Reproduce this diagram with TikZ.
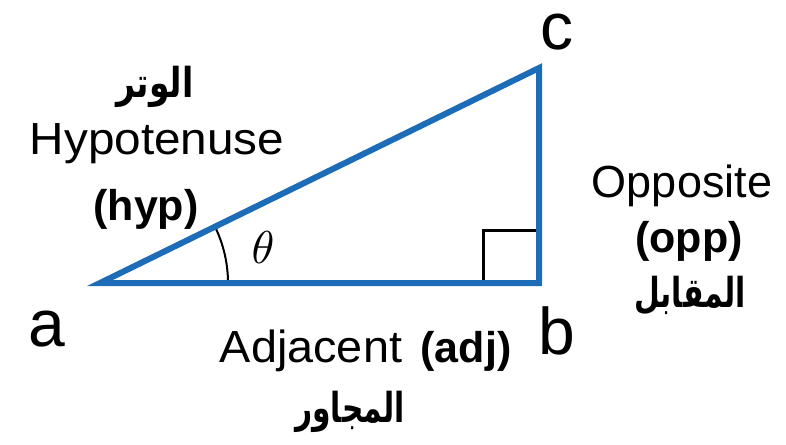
\documentclass[tikz,border=0pt]{standalone}
\usepackage{fontspec}
\setmainfont{Liberation Sans}
\newfontfamily\arabicfont[Script=Arabic]{DejaVu Sans}
\TeXXeTstate=1
\usepackage{tikz}
\definecolor{sideblue}{RGB}{28,108,184}
\tikzset{
  vertexlabel/.style={font=\fontsize{66}{66}\selectfont, inner sep=0pt, anchor=base},
  sidename/.style={font=\fontsize{45}{50}\selectfont, text=black, inner sep=0pt, anchor=base},
  sideabbr/.style={font=\fontsize{43}{46}\selectfont\bfseries, inner sep=0pt, anchor=base},
  sidearabic/.style={font=\fontsize{33}{40}\selectfont\arabicfont\bfseries, inner sep=0pt},
}
\newcommand{\tallar}[1]{\scalebox{1}[1.25]{\beginR #1\endR}}

\begin{document}
\begin{tikzpicture}[x=1pt,y=-1pt]
        \useasboundingbox (0,0) rectangle (786,444);
        % Define points
        \coordinate (a) at (100,283);
        \coordinate (b) at (539,283);
        \coordinate (c) at (539,68);
        % Right angle and angle mark
        \draw[line width=3pt] (b) ++(-56,0) -- ++(0,-53) -- ++(56,0);
        \draw[line width=2pt] (a) ++(128,0) arc[start angle=0, end angle=-26.1, radius=128];
        \node (theta) at (263,248) {\scalebox{4.6}{$\theta$}};
        % Sides
        \draw[sideblue, line width=6pt] (a) -- (b) -- (c) -- cycle;
        % Vertex labels
        \node[vertexlabel] (la) at (47,346) {a};
        \node[vertexlabel] (lb) at (557,354) {b};
        \node[vertexlabel] (lc) at (557,49) {c};
        % Hypotenuse
        \node[sidearabic] (hyparabic) at (155,87) {\tallar{الوتر}};
        \node[sidename] (hypname) at (157,154) {\scalebox{1.06}[1]{Hypotenuse}};
        \node[sideabbr] (hypabbr) at (146,220) {(hyp)};
        % Opposite
        \node[sidename] (oppname) at (682,197) {Opposite};
        \node[sideabbr] (oppabbr) at (689,252) {(opp)};
        \node[sidearabic] (opparabic) at (690,296) {\scalebox{0.9}[1]{\tallar{المقابل}}};
        % Adjacent
        \node[sidename] (adjname) at (311,362) {\scalebox{1.04}[1]{Adjacent}};
        \node[sideabbr] (adjabbr) at (466,362) {(adj)};
        \node[sidearabic] (adjarabic) at (350,412) {\scalebox{0.9}[1]{\tallar{المجاور}}};
\end{tikzpicture}
\end{document}
